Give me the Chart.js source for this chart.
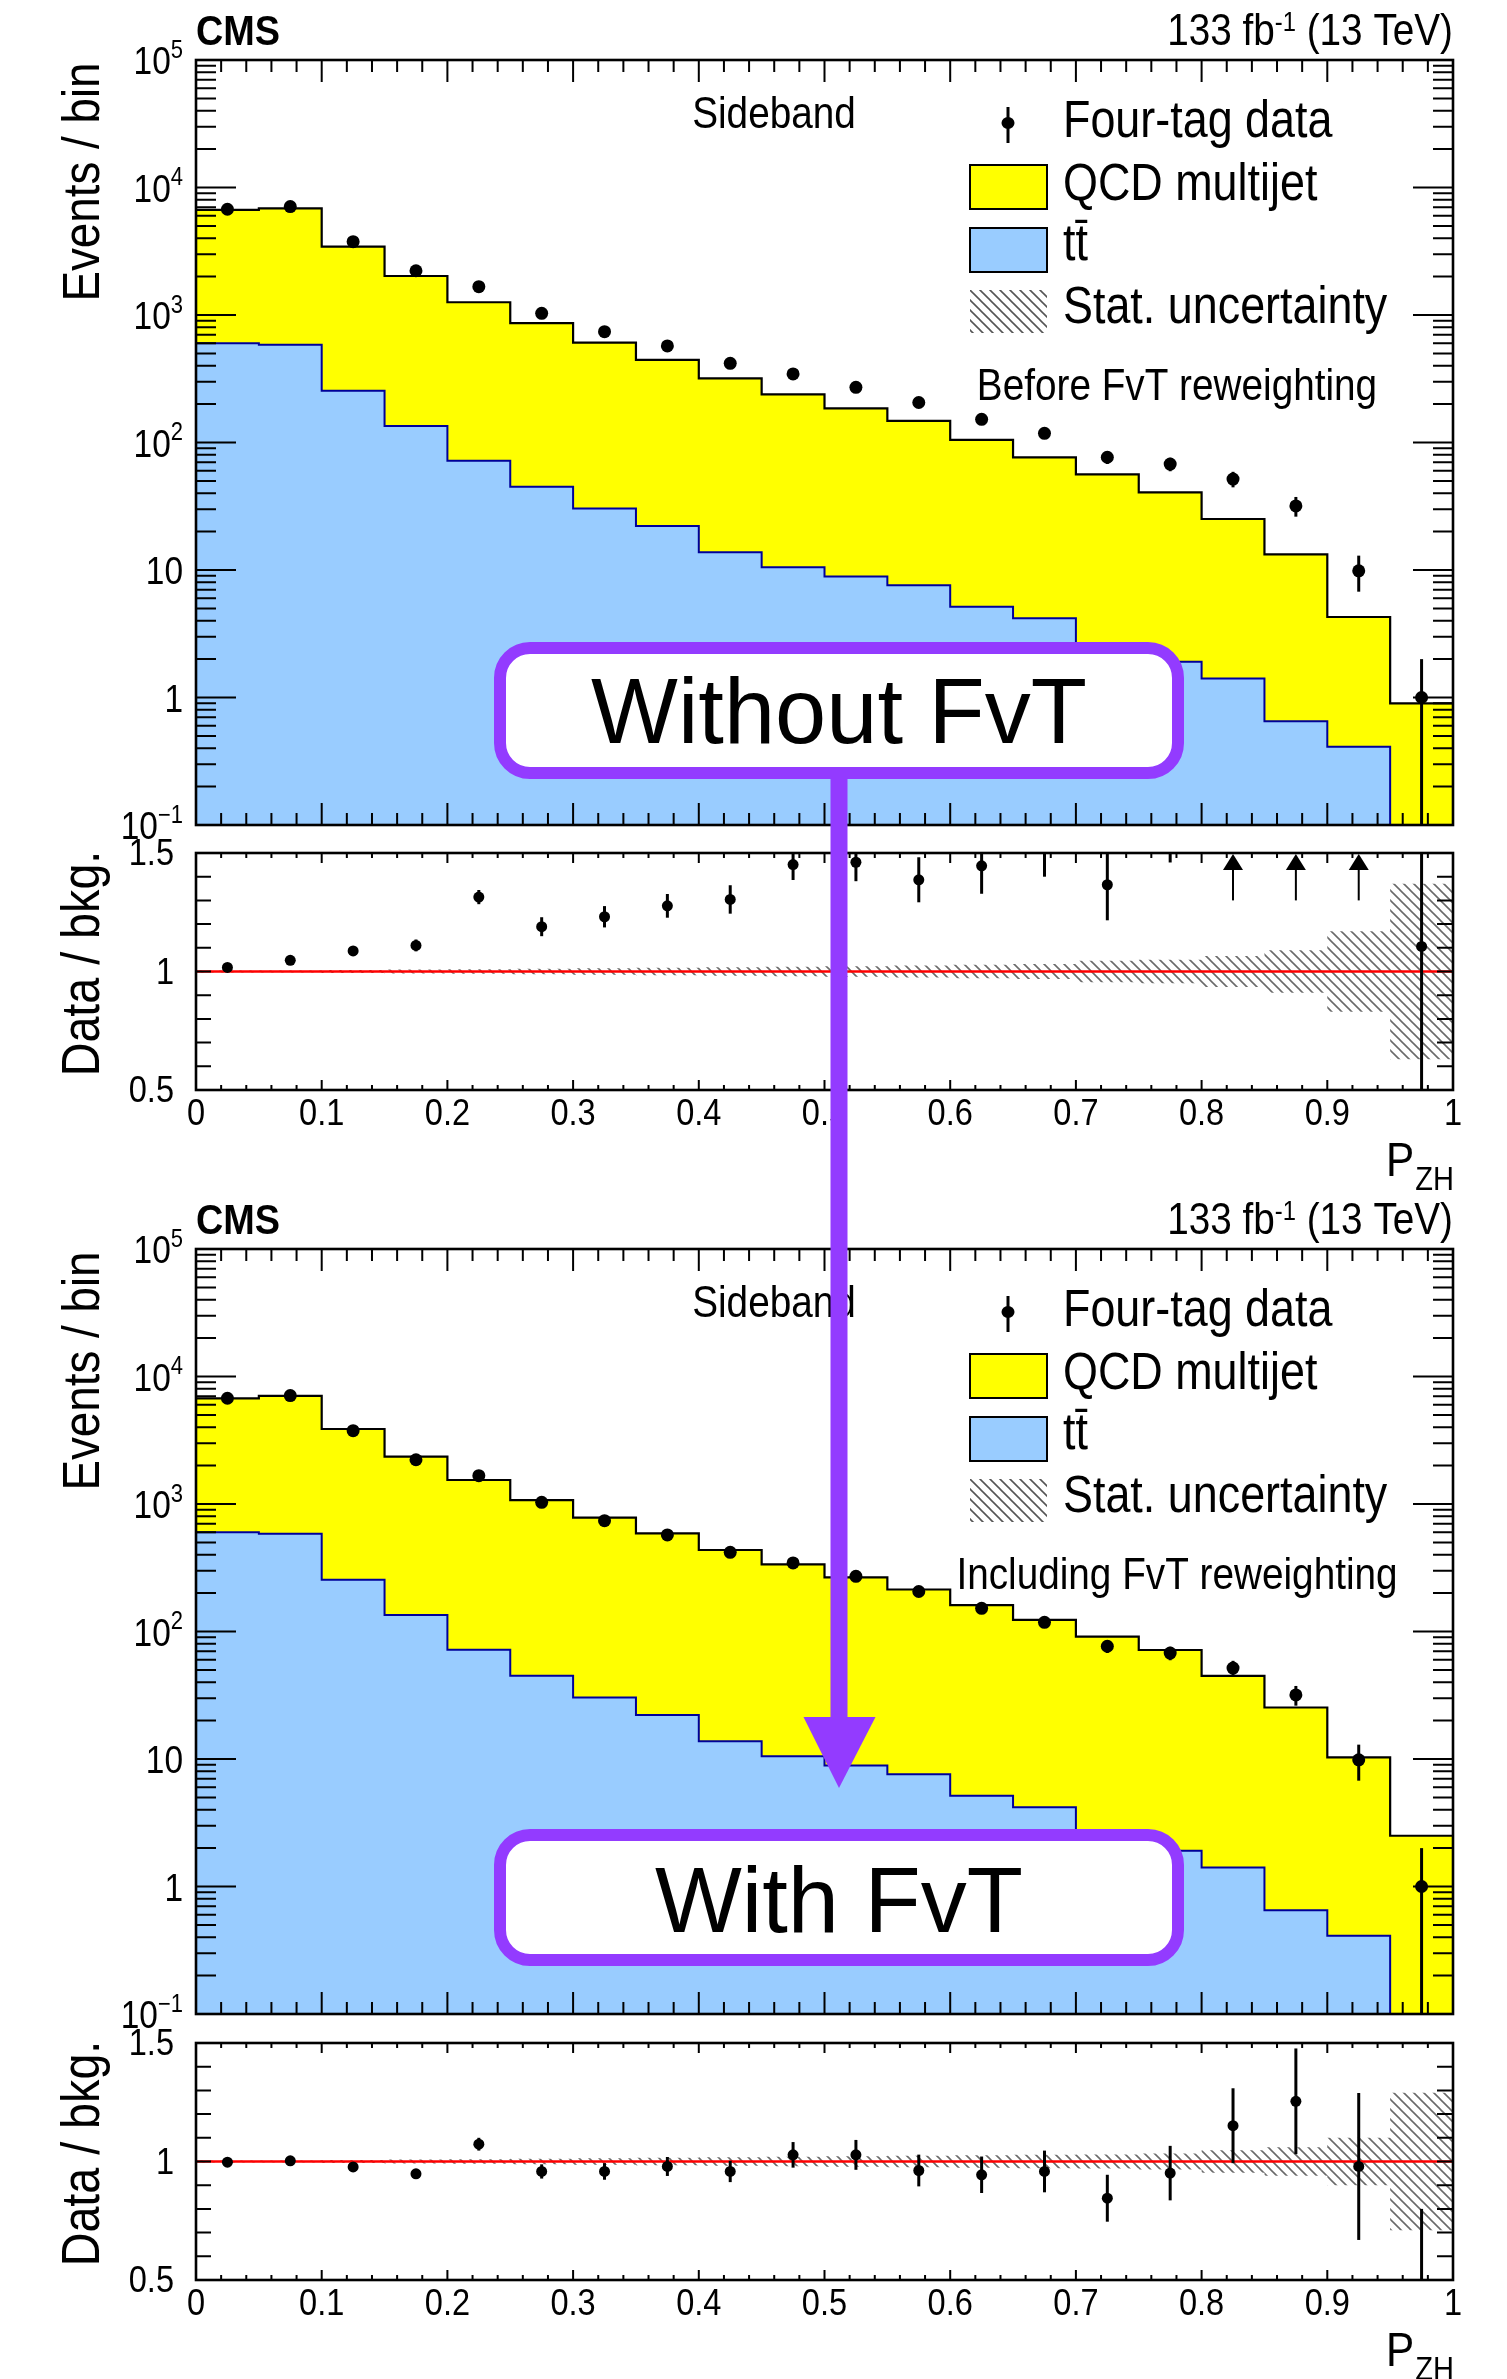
<!DOCTYPE html>
<html lang="en">
<head>
<meta charset="utf-8">
<title>Sideband P_ZH - without and with FvT reweighting</title>
<script src="https://cdn.jsdelivr.net/npm/chart.js@4.4.1/dist/chart.umd.min.js"></script>
<style>
    html, body { margin: 0; padding: 0; background: #ffffff; }
    #page { position: relative; width: 1507px; height: 2379px; overflow: hidden; background: #ffffff; }
    #page canvas { position: absolute; left: 0; }
    #overlay { pointer-events: none; }
</style>
</head>
<body>
<div id="page">
    <canvas id="topMain" width="1507" height="850" style="top:0px"></canvas>
    <canvas id="topRatio" width="1507" height="370" style="top:830px"></canvas>
    <canvas id="bottomMain" width="1507" height="850" style="top:1189px"></canvas>
    <canvas id="bottomRatio" width="1507" height="360" style="top:2019px"></canvas>
    <canvas id="overlay" width="1507" height="2379" style="top:0px"></canvas>
</div>
<script>
// ===== BINNING (P_ZH, 20 bins) =====
const binEdges = [0, 0.05, 0.1, 0.15, 0.2, 0.25, 0.3, 0.35, 0.4, 0.45, 0.5,
                  0.55, 0.6, 0.65, 0.7, 0.75, 0.8, 0.85, 0.9, 0.95, 1.0];
const binCenters = binEdges.slice(0, -1).map((e, i) => (e + binEdges[i + 1]) / 2);

// ===== EVENTS / BIN =====
const fourTagData = [6750, 7080, 3757, 2224, 1667, 1030, 740, 572, 418, 345,
                     271, 206, 152, 118, 76.6, 67.7, 51.7, 31.8, 9.86, 1.0];
const fourTagErr = [82, 84, 61, 47, 41, 32, 27, 24, 20, 19,
                    16, 14, 12, 11, 8.8, 8.2, 7.2, 5.6, 3.1, 1.0];
const ttbarEvents = [600, 585, 255, 135, 71.9, 45, 30.3, 22.1, 13.8, 10.5,
                     8.9, 7.6, 5.15, 4.18, 2.6, 1.91, 1.41, 0.65, 0.41, 0.05];
const qcdBeforeFvT = [6070, 6285, 3180, 1887, 1187, 820, 576, 422, 305, 228,
                      176, 140, 99.8, 72.4, 53.6, 38.7, 23.7, 12.6, 3.87, 0.85];
const qcdWithFvT = [6145, 6475, 3618, 2215, 1470, 1029, 751, 567, 422, 326,
                    257, 206, 156, 119, 88.4, 69.7, 43.4, 24.7, 9.9, 2.45];

// ===== DATA / BKG. =====
const ratioBeforeFvT = [1.017, 1.047, 1.087, 1.110, 1.314, 1.189, 1.231, 1.277, 1.304, 1.451,
                        1.461, 1.387, 1.446, 1.54, 1.366, 1.67, 2.06, 2.39, 2.30, 1.106];
const ratioBeforeFvTErr = [0.013, 0.013, 0.018, 0.025, 0.03, 0.04, 0.045, 0.05, 0.06, 0.065,
                           0.08, 0.095, 0.118, 0.14, 0.15, 0.21, 0.29, 0.42, 0.73, 1.2];
const statBandBeforeFvT = [0.004, 0.004, 0.006, 0.008, 0.01, 0.012, 0.014, 0.016, 0.018, 0.02,
                           0.022, 0.025, 0.028, 0.032, 0.045, 0.05, 0.065, 0.09, 0.17, 0.37];

const ratioWithFvT = [0.997, 1.003, 0.977, 0.948, 1.073, 0.958, 0.958, 0.979, 0.958, 1.028,
                      1.028, 0.962, 0.944, 0.958, 0.845, 0.951, 1.151, 1.254, 0.979, 0.40];
const ratioWithFvTErr = [0.012, 0.012, 0.016, 0.02, 0.027, 0.03, 0.035, 0.04, 0.045, 0.054,
                         0.063, 0.067, 0.077, 0.088, 0.099, 0.115, 0.158, 0.223, 0.31, 0.40];
const statBandWithFvT = [0.004, 0.004, 0.006, 0.008, 0.01, 0.012, 0.014, 0.016, 0.018, 0.02,
                         0.022, 0.024, 0.026, 0.028, 0.03, 0.034, 0.047, 0.06, 0.1, 0.29];

// ===== AXIS TICKS =====
const xTickValues = [0, 0.1, 0.2, 0.3, 0.4, 0.5, 0.6, 0.7, 0.8, 0.9, 1];
const xTickLabels = ['0', '0.1', '0.2', '0.3', '0.4', '0.5', '0.6', '0.7', '0.8', '0.9', '1'];
const mainTickValues = [0.1, 1, 10, 100, 1000, 10000, 100000];
const mainTickLabels = [['10', '\u22121'], ['1', ''], ['10', ''], ['10', '2'], ['10', '3'], ['10', '4'], ['10', '5']];
const ratioTickValues = [0.5, 1, 1.5];
const ratioTickLabels = ['0.5', '1', '1.5'];
const ARROW_BASE = 1.3; // lower end of the "off scale" arrows, in ratio units

// ===== STYLE =====
const ROOT_FONT = '"Liberation Sans", Arial, Helvetica, sans-serif';
const TEXT_SX = 0.88; // ROOT text in the figure is a little condensed
const QCD_FILL = '#ffff00';
const TTBAR_FILL = '#99ccff';
const TTBAR_LINE = '#000099';
const FVT_PURPLE = '#933bff';
const PLOT_LEFT = 196;
const PLOT_RIGHT = 1453;
const PAGE_WIDTH = 1507;

function stepPoints(vals) {
    // one point per bin edge, last bin repeated at x = 1
    return binEdges.map((x, i) => ({ x: x, y: vals[Math.min(i, vals.length - 1)] }));
}

function centerPoints(vals) {
    return binCenters.map((x, i) => ({ x: x, y: vals[i] }));
}

function makeHatch(ctx, spacing, color, width) {
    const tile = document.createElement('canvas');
    tile.width = spacing;
    tile.height = spacing;
    const c = tile.getContext('2d');
    c.strokeStyle = color;
    c.lineWidth = width;
    [-spacing, 0, spacing].forEach(off => {
        c.beginPath();
        c.moveTo(off - 1, -1);
        c.lineTo(off + spacing + 1, spacing + 1);
        c.stroke();
    });
    return ctx.createPattern(tile, 'repeat');
}

// condensed ROOT-like text
function rootText(ctx, str, x, y, size, o = {}) {
    ctx.save();
    ctx.translate(x, y);
    if (o.rotate) ctx.rotate(-Math.PI / 2);
    ctx.scale(TEXT_SX, 1);
    ctx.font = (o.bold ? 'bold ' : '') + size + 'px ' + ROOT_FONT;
    ctx.textAlign = o.align || 'left';
    ctx.textBaseline = o.baseline || 'alphabetic';
    ctx.fillStyle = '#000';
    ctx.fillText(str, 0, 0);
    ctx.restore();
}

function textWidth(ctx, str, size, bold) {
    ctx.save();
    ctx.font = (bold ? 'bold ' : '') + size + 'px ' + ROOT_FONT;
    const w = ctx.measureText(str).width * TEXT_SX;
    ctx.restore();
    return w;
}

// ===== FRAME + INWARD TICKS =====
function drawRootFrame(chart, isLog) {
    const { ctx, chartArea: a, scales: { x, y } } = chart;
    const xMajor = isLog ? 22 : 10;
    const xMinor = isLog ? 12 : 5;
    ctx.save();
    ctx.strokeStyle = '#000';
    ctx.lineWidth = 2;
    ctx.beginPath();
    for (let k = 1; k < 50; k++) {
        const px = x.getPixelForValue(k / 50);
        const len = k % 5 === 0 ? xMajor : xMinor;
        ctx.moveTo(px, a.bottom); ctx.lineTo(px, a.bottom - len);
        ctx.moveTo(px, a.top); ctx.lineTo(px, a.top + len);
    }
    if (isLog) {
        for (let d = -1; d < 5; d++) {
            for (let m = 1; m <= 9; m++) {
                const py = y.getPixelForValue(m * Math.pow(10, d));
                const len = m === 1 ? 40 : 20;
                ctx.moveTo(a.left, py); ctx.lineTo(a.left + len, py);
                ctx.moveTo(a.right, py); ctx.lineTo(a.right - len, py);
            }
        }
    } else {
        for (let k = 1; k < 10; k++) {
            const py = y.getPixelForValue(0.5 + k / 10);
            ctx.moveTo(a.left, py); ctx.lineTo(a.left + 15, py);
            ctx.moveTo(a.right, py); ctx.lineTo(a.right - 16, py);
        }
    }
    ctx.stroke();
    ctx.lineWidth = 2.6;
    ctx.strokeRect(a.left, a.top, a.right - a.left, a.bottom - a.top);
    ctx.restore();
}

// ===== ERROR BARS (and arrows for points off the top of the ratio) =====
function drawErrorBars(chart, vals, errs, withArrows) {
    const { ctx, chartArea: a, scales: { x, y } } = chart;
    const isLog = y.type === 'logarithmic';
    ctx.save();
    ctx.beginPath();
    ctx.rect(a.left, a.top, a.right - a.left, a.bottom - a.top);
    ctx.clip();
    ctx.strokeStyle = '#000';
    ctx.fillStyle = '#000';
    vals.forEach((v, i) => {
        const px = x.getPixelForValue(binCenters[i]);
        const lo = v - errs[i];
        const hi = v + errs[i];
        if (withArrows && lo > y.max) {
            const pBase = y.getPixelForValue(ARROW_BASE);
            ctx.lineWidth = 2;
            ctx.beginPath();
            ctx.moveTo(px, pBase);
            ctx.lineTo(px, a.top + 14);
            ctx.stroke();
            ctx.beginPath();
            ctx.moveTo(px, a.top + 1);
            ctx.lineTo(px - 10, a.top + 17);
            ctx.lineTo(px + 10, a.top + 17);
            ctx.closePath();
            ctx.fill();
            return;
        }
        const pLo = (isLog && lo <= 0) ? a.bottom + 5 : Math.min(y.getPixelForValue(lo), a.bottom + 5);
        const pHi = Math.max(y.getPixelForValue(hi), a.top - 5);
        ctx.lineWidth = 3;
        ctx.beginPath();
        ctx.moveTo(px, pLo);
        ctx.lineTo(px, pHi);
        ctx.stroke();
    });
    ctx.restore();
}

// ===== MAIN PANEL (Events / bin) =====
function buildMainPanel(canvasId, qcdVals, caption) {
    const canvas = document.getElementById(canvasId);
    const hatch = makeHatch(canvas.getContext('2d'), 10, '#555555', 1.6);
    const bkgTotal = qcdVals.map((q, i) => q + ttbarEvents[i]);

    return new Chart(canvas, {
        type: 'line',
        data: {
            datasets: [
                {
                    label: 'Four-tag data',
                    data: centerPoints(fourTagData),
                    showLine: false,
                    pointRadius: 6.5,
                    pointHoverRadius: 6.5,
                    pointBackgroundColor: '#000',
                    pointBorderWidth: 0,
                    order: 0
                },
                {
                    label: 'tt\u0304',
                    data: stepPoints(ttbarEvents),
                    stepped: true,
                    fill: 'start',
                    backgroundColor: TTBAR_FILL,
                    borderColor: TTBAR_LINE,
                    borderWidth: 2,
                    pointRadius: 0,
                    order: 1
                },
                {
                    label: 'QCD multijet',
                    data: stepPoints(bkgTotal),
                    stepped: true,
                    fill: 'start',
                    backgroundColor: QCD_FILL,
                    borderColor: '#000',
                    borderWidth: 2.2,
                    pointRadius: 0,
                    order: 2
                }
            ]
        },
        options: {
            responsive: false,
            animation: false,
            events: [],
            layout: { padding: { left: PLOT_LEFT, right: PAGE_WIDTH - PLOT_RIGHT, top: 60, bottom: 25 } },
            plugins: { legend: { display: false }, tooltip: { enabled: false } },
            scales: {
                x: { type: 'linear', min: 0, max: 1, display: false },
                y: { type: 'logarithmic', min: 0.1, max: 100000, display: false }
            }
        },
        plugins: [{
            id: 'rootMainDecor',
            afterDatasetsDraw(c) {
                drawErrorBars(c, fourTagData, fourTagErr, false);
            },
            afterDraw(c) {
                const ctx = c.ctx;
                const y = c.scales.y;
                drawRootFrame(c, true);

                // y tick labels (10^n)
                mainTickValues.forEach((v, i) => {
                    const py = y.getPixelForValue(v);
                    const [base, exp] = mainTickLabels[i];
                    const expW = exp ? textWidth(ctx, exp, 25) : 0;
                    rootText(ctx, base, PLOT_LEFT - 13 - expW, py + 4, 38, { align: 'right', baseline: 'middle' });
                    if (exp) rootText(ctx, exp, PLOT_LEFT - 13, py - 9, 25, { align: 'right', baseline: 'middle' });
                });

                // axis title
                rootText(ctx, 'Events / bin', 99, 182, 52, { rotate: true, align: 'center' });

                // CMS + lumi
                rootText(ctx, 'CMS', PLOT_LEFT, 45, 43, { bold: true });
                const wTail = textWidth(ctx, ' (13 TeV)', 44);
                const wSup = textWidth(ctx, '-1', 27);
                rootText(ctx, ' (13 TeV)', PLOT_RIGHT, 45, 44, { align: 'right' });
                rootText(ctx, '-1', PLOT_RIGHT - wTail, 31, 27, { align: 'right' });
                rootText(ctx, '133 fb', PLOT_RIGHT - wTail - wSup, 45, 44, { align: 'right' });

                // region + caption
                rootText(ctx, 'Sideband', 774, 128, 44, { align: 'center' });
                rootText(ctx, caption, 1177, 400, 44, { align: 'center' });

                // legend
                ctx.save();
                ctx.strokeStyle = '#000';
                ctx.fillStyle = '#000';
                ctx.lineWidth = 3;
                ctx.beginPath();
                ctx.moveTo(1008, 107);
                ctx.lineTo(1008, 143);
                ctx.stroke();
                ctx.beginPath();
                ctx.ellipse(1008, 123, 6.5, 6, 0, 0, Math.PI * 2);
                ctx.fill();
                ctx.lineWidth = 2;
                ctx.fillStyle = QCD_FILL;
                ctx.fillRect(970, 165, 77, 44);
                ctx.strokeRect(970, 165, 77, 44);
                ctx.fillStyle = TTBAR_FILL;
                ctx.fillRect(970, 228, 77, 44);
                ctx.strokeRect(970, 228, 77, 44);
                ctx.fillStyle = hatch;
                ctx.fillRect(970, 290, 77, 43);
                ctx.restore();
                rootText(ctx, 'Four-tag data', 1063, 137, 51);
                rootText(ctx, 'QCD multijet', 1063, 200, 51);
                rootText(ctx, 'tt\u0304', 1063, 260, 51);
                rootText(ctx, 'Stat. uncertainty', 1063, 323, 51);
            }
        }]
    });
}

// ===== RATIO PANEL (Data / bkg.) =====
function buildRatioPanel(canvasId, ratioVals, ratioErrs, band, padTop, padBottom) {
    const canvas = document.getElementById(canvasId);
    const hatch = makeHatch(canvas.getContext('2d'), 10, '#6a6a6a', 1.6);

    return new Chart(canvas, {
        type: 'line',
        data: {
            datasets: [
                {
                    label: 'Data / bkg.',
                    data: centerPoints(ratioVals),
                    showLine: false,
                    pointRadius: 5.5,
                    pointHoverRadius: 5.5,
                    pointBackgroundColor: '#000',
                    pointBorderWidth: 0,
                    clip: 0,
                    order: 0
                },
                {
                    label: 'unity',
                    data: [{ x: 0, y: 1 }, { x: 1, y: 1 }],
                    borderColor: '#ff0000',
                    borderWidth: 2.5,
                    pointRadius: 0,
                    order: 1
                },
                {
                    label: 'band low',
                    data: stepPoints(band.map(b => 1 - b)),
                    stepped: true,
                    borderColor: 'rgba(0,0,0,0)',
                    pointRadius: 0,
                    fill: false,
                    order: 3
                },
                {
                    label: 'Stat. uncertainty',
                    data: stepPoints(band.map(b => 1 + b)),
                    stepped: true,
                    borderColor: 'rgba(0,0,0,0)',
                    pointRadius: 0,
                    fill: 2,
                    backgroundColor: hatch,
                    order: 2
                }
            ]
        },
        options: {
            responsive: false,
            animation: false,
            events: [],
            layout: { padding: { left: PLOT_LEFT, right: PAGE_WIDTH - PLOT_RIGHT, top: padTop, bottom: padBottom } },
            plugins: { legend: { display: false }, tooltip: { enabled: false } },
            scales: {
                x: { type: 'linear', min: 0, max: 1, display: false },
                y: { type: 'linear', min: 0.5, max: 1.5, display: false }
            }
        },
        plugins: [{
            id: 'rootRatioDecor',
            afterDatasetsDraw(c) {
                drawErrorBars(c, ratioVals, ratioErrs, true);
            },
            afterDraw(c) {
                const ctx = c.ctx;
                const a = c.chartArea;
                const { x, y } = c.scales;
                drawRootFrame(c, false);

                ratioTickValues.forEach((v, i) => {
                    rootText(ctx, ratioTickLabels[i], PLOT_LEFT - 22, y.getPixelForValue(v) + 2, 37,
                             { align: 'right', baseline: 'middle' });
                });
                xTickValues.forEach((v, i) => {
                    rootText(ctx, xTickLabels[i], x.getPixelForValue(v), a.bottom + 25, 37,
                             { align: 'center', baseline: 'middle' });
                });

                rootText(ctx, 'Data / bkg.', 99, (a.top + a.bottom) / 2 - 8, 53, { rotate: true, align: 'center' });

                const wSub = textWidth(ctx, 'ZH', 33);
                rootText(ctx, 'ZH', PLOT_RIGHT + 1, a.bottom + 100, 33, { align: 'right' });
                rootText(ctx, 'P', PLOT_RIGHT + 1 - wSub - 1, a.bottom + 86, 48, { align: 'right' });
            }
        }]
    });
}

// ===== FvT CALLOUTS (annotation layer) =====
function drawCallout(ctx, text, x, y, w, h, baseline) {
    const bw = 12;
    ctx.save();
    ctx.beginPath();
    ctx.roundRect(x + bw / 2, y + bw / 2, w - bw, h - bw, 30);
    ctx.fillStyle = '#ffffff';
    ctx.fill();
    ctx.lineWidth = bw;
    ctx.strokeStyle = FVT_PURPLE;
    ctx.stroke();
    ctx.font = '92px ' + ROOT_FONT;
    ctx.fillStyle = '#000';
    ctx.textAlign = 'center';
    ctx.textBaseline = 'alphabetic';
    ctx.fillText(text, x + w / 2, baseline);
    ctx.restore();
}

function drawFvTOverlay() {
    const ctx = document.getElementById('overlay').getContext('2d');
    // arrow from the first callout down into the second panel
    ctx.fillStyle = FVT_PURPLE;
    ctx.fillRect(830.5, 770, 17, 1718 - 770);
    ctx.beginPath();
    ctx.moveTo(803.5, 1717);
    ctx.lineTo(875.5, 1717);
    ctx.lineTo(839, 1788);
    ctx.closePath();
    ctx.fill();

    drawCallout(ctx, 'Without FvT', 494, 642, 690, 137, 743);
    drawCallout(ctx, 'With FvT', 494, 1829, 690, 137, 1932);
}

buildMainPanel('topMain', qcdBeforeFvT, 'Before FvT reweighting');
buildRatioPanel('topRatio', ratioBeforeFvT, ratioBeforeFvTErr, statBandBeforeFvT, 23, 110);
buildMainPanel('bottomMain', qcdWithFvT, 'Including FvT reweighting');
buildRatioPanel('bottomRatio', ratioWithFvT, ratioWithFvTErr, statBandWithFvT, 24, 99);
drawFvTOverlay();
console.log('FvT comparison panels drawn');
</script>
</body>
</html>
